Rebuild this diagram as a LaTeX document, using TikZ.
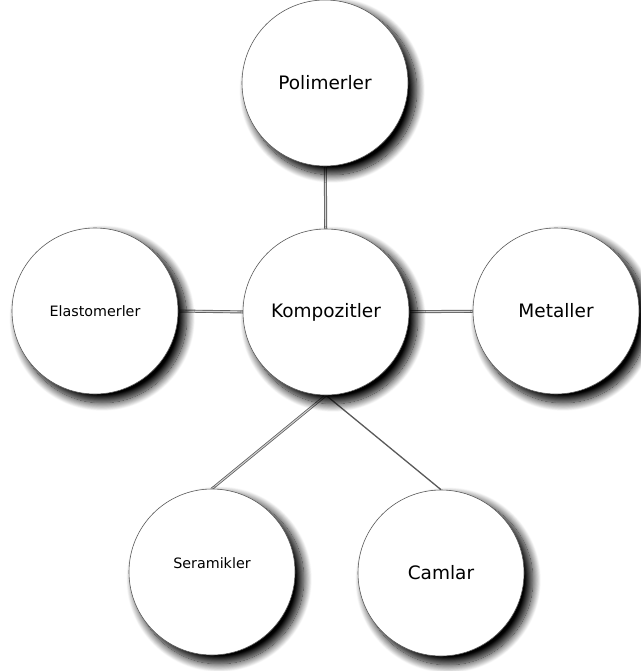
\documentclass[tikz,border=0pt]{standalone}
\usepackage{fontspec}
\setmainfont{DejaVu Sans}
\usetikzlibrary{shadows.blur,backgrounds}
\tikzset{
  ball/.style={circle, draw=gray!70!black, line width=0.6pt, fill=white, minimum size=166pt, inner sep=0pt,
    blur shadow={shadow xshift=7pt, shadow yshift=-7pt, shadow scale=1.02, shadow blur steps=16, shadow blur radius=8pt, shadow opacity=100}},
  big/.style={font=\fontsize{18.5}{21}\selectfont},
  small/.style={font=\fontsize{14.3}{17}\selectfont},
  link/.style={draw=gray!75!black, double=gray!35}
}
\begin{document}
\begin{tikzpicture}[x=1pt,y=-1pt]
\useasboundingbox (0,0) rectangle (640,671);
\node[ball,big] (p) at (325,83) {Polimerler};
\node[ball,big] (k) at (326,312) {Kompozitler};
\node[ball,small] (e) at (95,311) {Elastomerler};
\node[ball,big] (m) at (556,311) {Metaller};
\node[ball] (s) at (212,572) {};
\node[small] (st) at (212,563) {Seramikler};
\node[ball,big] (c) at (441,573) {Camlar};
\begin{scope}[on background layer]
\draw[link, double distance=1.2pt, line width=0.9pt] (p) -- (k);
\draw[link, double distance=1.2pt, line width=0.9pt] (e.east) -- ([xshift=5pt]k.west);
\draw[link, double distance=1.2pt, line width=0.9pt] (k) -- (m);
\draw[link, double distance=1pt, line width=0.8pt] (k.south) -- (s.north);
\draw[draw=gray!70!black, line width=1.3pt] (k.south) -- (c.north);
\end{scope}
\end{tikzpicture}
\end{document}
